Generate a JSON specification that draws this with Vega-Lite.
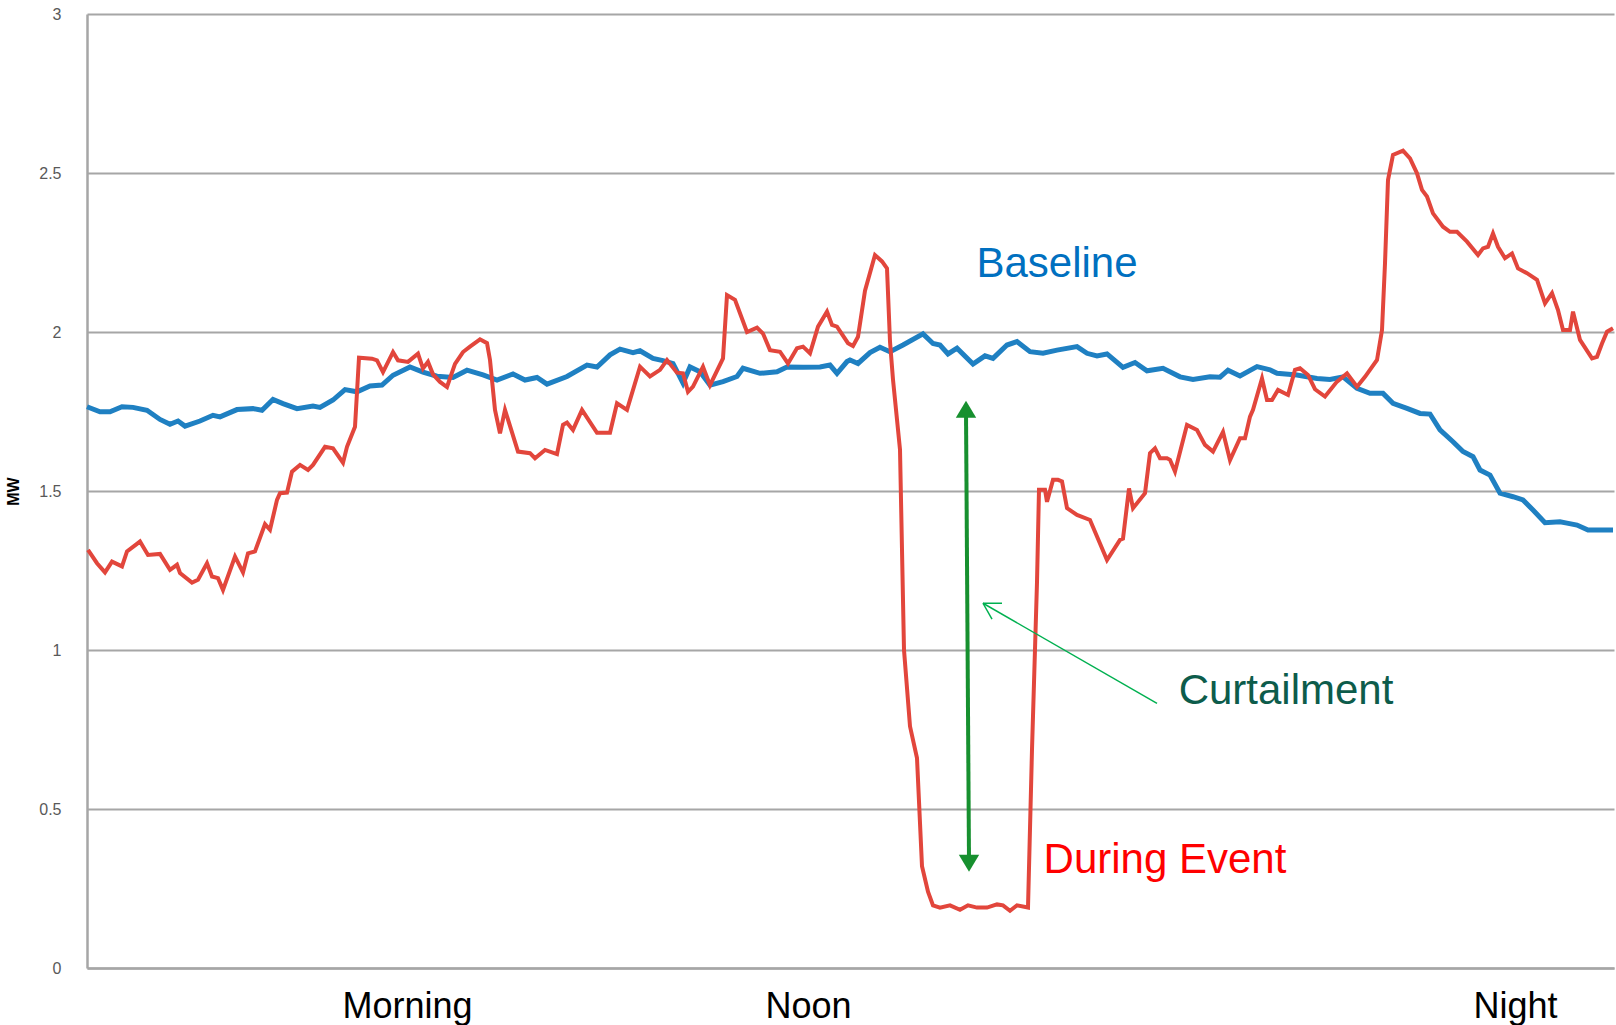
{
  "$schema": "https://vega.github.io/schema/vega-lite/v6.json",
  "width": 1527,
  "height": 954,
  "autosize": {"type": "none"},
  "padding": {"left": 87, "top": 14, "right": 2, "bottom": 57},
  "background": "white",
  "config": {"view": {"stroke": null}, "font": "Liberation Sans"},
  "datasets": {
    "baseline": [
      {"t":0,"mw":1.765},{"t":13,"mw":1.749},{"t":23,"mw":1.749},{"t":35,"mw":1.765},{"t":46,"mw":1.763},{"t":60,"mw":1.754},{"t":73,"mw":1.725},{"t":83,"mw":1.71},{"t":91,"mw":1.72},{"t":98,"mw":1.704},{"t":113,"mw":1.72},{"t":126,"mw":1.738},{"t":133,"mw":1.733},{"t":150,"mw":1.756},{"t":166,"mw":1.759},{"t":175,"mw":1.754},{"t":186,"mw":1.788},{"t":196,"mw":1.775},{"t":210,"mw":1.759},{"t":226,"mw":1.767},{"t":233,"mw":1.763},{"t":246,"mw":1.786},{"t":258,"mw":1.819},{"t":270,"mw":1.812},{"t":283,"mw":1.83},{"t":295,"mw":1.833},{"t":306,"mw":1.864},{"t":323,"mw":1.89},{"t":336,"mw":1.874},{"t":350,"mw":1.861},{"t":366,"mw":1.857},{"t":380,"mw":1.88},{"t":396,"mw":1.865},{"t":410,"mw":1.849},{"t":426,"mw":1.868},{"t":438,"mw":1.849},{"t":450,"mw":1.857},{"t":460,"mw":1.836},{"t":480,"mw":1.86},{"t":500,"mw":1.896},{"t":510,"mw":1.89},{"t":523,"mw":1.928},{"t":533,"mw":1.946},{"t":546,"mw":1.935},{"t":553,"mw":1.941},{"t":566,"mw":1.917},{"t":576,"mw":1.91},{"t":586,"mw":1.901},{"t":596,"mw":1.839},{"t":603,"mw":1.89},{"t":613,"mw":1.875},{"t":623,"mw":1.833},{"t":636,"mw":1.844},{"t":650,"mw":1.86},{"t":656,"mw":1.886},{"t":673,"mw":1.87},{"t":690,"mw":1.875},{"t":700,"mw":1.89},{"t":716,"mw":1.889},{"t":733,"mw":1.89},{"t":743,"mw":1.896},{"t":750,"mw":1.87},{"t":760,"mw":1.907},{"t":763,"mw":1.912},{"t":771,"mw":1.901},{"t":783,"mw":1.935},{"t":793,"mw":1.952},{"t":803,"mw":1.938},{"t":816,"mw":1.959},{"t":836,"mw":1.994},{"t":846,"mw":1.964},{"t":853,"mw":1.959},{"t":861,"mw":1.931},{"t":870,"mw":1.949},{"t":886,"mw":1.899},{"t":898,"mw":1.925},{"t":906,"mw":1.917},{"t":920,"mw":1.959},{"t":930,"mw":1.97},{"t":943,"mw":1.938},{"t":956,"mw":1.933},{"t":970,"mw":1.943},{"t":990,"mw":1.954},{"t":1000,"mw":1.933},{"t":1010,"mw":1.925},{"t":1020,"mw":1.931},{"t":1036,"mw":1.889},{"t":1048,"mw":1.904},{"t":1060,"mw":1.878},{"t":1076,"mw":1.886},{"t":1093,"mw":1.859},{"t":1106,"mw":1.851},{"t":1123,"mw":1.859},{"t":1133,"mw":1.858},{"t":1141,"mw":1.88},{"t":1153,"mw":1.862},{"t":1170,"mw":1.891},{"t":1183,"mw":1.881},{"t":1190,"mw":1.87},{"t":1210,"mw":1.865},{"t":1230,"mw":1.854},{"t":1243,"mw":1.851},{"t":1256,"mw":1.859},{"t":1270,"mw":1.823},{"t":1283,"mw":1.807},{"t":1296,"mw":1.807},{"t":1306,"mw":1.776},{"t":1320,"mw":1.76},{"t":1333,"mw":1.744},{"t":1343,"mw":1.742},{"t":1353,"mw":1.692},{"t":1366,"mw":1.655},{"t":1376,"mw":1.624},{"t":1386,"mw":1.608},{"t":1393,"mw":1.566},{"t":1403,"mw":1.55},{"t":1413,"mw":1.493},{"t":1426,"mw":1.482},{"t":1436,"mw":1.472},{"t":1446,"mw":1.44},{"t":1458,"mw":1.4},{"t":1473,"mw":1.403},{"t":1480,"mw":1.399},{"t":1490,"mw":1.393},{"t":1501,"mw":1.377},{"t":1526,"mw":1.377}
    ],
    "event": [
      {"t":1,"mw":1.315},{"t":10,"mw":1.273},{"t":18,"mw":1.244},{"t":25,"mw":1.278},{"t":35,"mw":1.263},{"t":40,"mw":1.31},{"t":53,"mw":1.341},{"t":61,"mw":1.299},{"t":73,"mw":1.302},{"t":83,"mw":1.252},{"t":90,"mw":1.268},{"t":93,"mw":1.242},{"t":105,"mw":1.212},{"t":111,"mw":1.221},{"t":120,"mw":1.273},{"t":125,"mw":1.231},{"t":131,"mw":1.226},{"t":136,"mw":1.189},{"t":148,"mw":1.294},{"t":156,"mw":1.244},{"t":161,"mw":1.304},{"t":168,"mw":1.31},{"t":178,"mw":1.396},{"t":183,"mw":1.378},{"t":190,"mw":1.472},{"t":193,"mw":1.493},{"t":200,"mw":1.495},{"t":205,"mw":1.561},{"t":213,"mw":1.582},{"t":221,"mw":1.566},{"t":226,"mw":1.582},{"t":238,"mw":1.639},{"t":246,"mw":1.634},{"t":256,"mw":1.589},{"t":260,"mw":1.639},{"t":266,"mw":1.686},{"t":268,"mw":1.702},{"t":272,"mw":1.919},{"t":285,"mw":1.916},{"t":290,"mw":1.911},{"t":296,"mw":1.874},{"t":306,"mw":1.937},{"t":311,"mw":1.911},{"t":321,"mw":1.906},{"t":331,"mw":1.932},{"t":336,"mw":1.885},{"t":341,"mw":1.906},{"t":346,"mw":1.867},{"t":353,"mw":1.843},{"t":360,"mw":1.827},{"t":368,"mw":1.9},{"t":376,"mw":1.937},{"t":383,"mw":1.954},{"t":393,"mw":1.977},{"t":400,"mw":1.965},{"t":403,"mw":1.912},{"t":408,"mw":1.755},{"t":413,"mw":1.681},{"t":418,"mw":1.755},{"t":431,"mw":1.624},{"t":443,"mw":1.619},{"t":448,"mw":1.603},{"t":458,"mw":1.629},{"t":470,"mw":1.616},{"t":476,"mw":1.708},{"t":480,"mw":1.715},{"t":486,"mw":1.692},{"t":495,"mw":1.755},{"t":510,"mw":1.683},{"t":523,"mw":1.683},{"t":530,"mw":1.776},{"t":540,"mw":1.755},{"t":553,"mw":1.891},{"t":563,"mw":1.86},{"t":573,"mw":1.881},{"t":580,"mw":1.912},{"t":590,"mw":1.872},{"t":596,"mw":1.87},{"t":601,"mw":1.812},{"t":606,"mw":1.828},{"t":616,"mw":1.891},{"t":623,"mw":1.833},{"t":636,"mw":1.917},{"t":640,"mw":2.116},{"t":648,"mw":2.101},{"t":660,"mw":2.0},{"t":670,"mw":2.014},{"t":676,"mw":1.995},{"t":683,"mw":1.943},{"t":693,"mw":1.938},{"t":701,"mw":1.901},{"t":710,"mw":1.949},{"t":716,"mw":1.954},{"t":723,"mw":1.933},{"t":731,"mw":2.017},{"t":740,"mw":2.064},{"t":745,"mw":2.022},{"t":750,"mw":2.017},{"t":761,"mw":1.965},{"t":766,"mw":1.956},{"t":771,"mw":1.985},{"t":778,"mw":2.13},{"t":788,"mw":2.242},{"t":795,"mw":2.222},{"t":800,"mw":2.2},{"t":803,"mw":1.97},{"t":806,"mw":1.85},{"t":813,"mw":1.63},{"t":817,"mw":1.0},{"t":823,"mw":0.76},{"t":830,"mw":0.66},{"t":835,"mw":0.32},{"t":841,"mw":0.24},{"t":846,"mw":0.197},{"t":853,"mw":0.19},{"t":863,"mw":0.197},{"t":873,"mw":0.183},{"t":881,"mw":0.197},{"t":890,"mw":0.19},{"t":900,"mw":0.19},{"t":910,"mw":0.2},{"t":916,"mw":0.197},{"t":923,"mw":0.18},{"t":930,"mw":0.197},{"t":941,"mw":0.19},{"t":945,"mw":0.687},{"t":950,"mw":1.213},{"t":952,"mw":1.504},{"t":958,"mw":1.504},{"t":960,"mw":1.466},{"t":966,"mw":1.535},{"t":971,"mw":1.535},{"t":975,"mw":1.53},{"t":980,"mw":1.446},{"t":990,"mw":1.425},{"t":1003,"mw":1.409},{"t":1020,"mw":1.283},{"t":1033,"mw":1.346},{"t":1036,"mw":1.35},{"t":1042,"mw":1.508},{"t":1046,"mw":1.446},{"t":1058,"mw":1.493},{"t":1063,"mw":1.619},{"t":1068,"mw":1.634},{"t":1073,"mw":1.603},{"t":1080,"mw":1.603},{"t":1083,"mw":1.598},{"t":1088,"mw":1.561},{"t":1100,"mw":1.708},{"t":1110,"mw":1.692},{"t":1118,"mw":1.645},{"t":1126,"mw":1.624},{"t":1136,"mw":1.686},{"t":1143,"mw":1.597},{"t":1153,"mw":1.666},{"t":1158,"mw":1.666},{"t":1163,"mw":1.734},{"t":1166,"mw":1.755},{"t":1175,"mw":1.854},{"t":1180,"mw":1.786},{"t":1185,"mw":1.786},{"t":1191,"mw":1.818},{"t":1201,"mw":1.802},{"t":1208,"mw":1.881},{"t":1213,"mw":1.886},{"t":1221,"mw":1.865},{"t":1228,"mw":1.82},{"t":1238,"mw":1.797},{"t":1250,"mw":1.844},{"t":1260,"mw":1.87},{"t":1270,"mw":1.828},{"t":1278,"mw":1.859},{"t":1290,"mw":1.912},{"t":1295,"mw":2.006},{"t":1298,"mw":2.216},{"t":1301,"mw":2.478},{"t":1306,"mw":2.557},{"t":1316,"mw":2.57},{"t":1323,"mw":2.546},{"t":1330,"mw":2.499},{"t":1335,"mw":2.447},{"t":1340,"mw":2.426},{"t":1346,"mw":2.373},{"t":1356,"mw":2.331},{"t":1363,"mw":2.315},{"t":1370,"mw":2.315},{"t":1380,"mw":2.284},{"t":1391,"mw":2.242},{"t":1396,"mw":2.263},{"t":1401,"mw":2.268},{"t":1406,"mw":2.31},{"t":1411,"mw":2.268},{"t":1418,"mw":2.232},{"t":1425,"mw":2.247},{"t":1431,"mw":2.2},{"t":1440,"mw":2.185},{"t":1450,"mw":2.164},{"t":1458,"mw":2.09},{"t":1465,"mw":2.122},{"t":1471,"mw":2.069},{"t":1476,"mw":2.006},{"t":1483,"mw":2.006},{"t":1486,"mw":2.064},{"t":1493,"mw":1.975},{"t":1505,"mw":1.917},{"t":1510,"mw":1.922},{"t":1515,"mw":1.964},{"t":1520,"mw":2.001},{"t":1526,"mw":2.012}
    ],
    "bigArrow": [{"t":879,"mw":1.75,"t2":882,"mw2":0.34}],
    "bigHeads": [{"t":879,"mw":1.784,"dir":"up"},{"t":882,"mw":0.303,"dir":"down"}],
    "pointer": [
      {"t":1070,"mw":0.832,"t2":896,"mw2":1.147},
      {"t":896,"mw":1.147,"t2":915,"mw2":1.147},
      {"t":896,"mw":1.147,"t2":905,"mw2":1.097}
    ],
    "notes": [
      {"label":"Baseline","t":970,"mw":2.173},
      {"label":"Curtailment","t":1199,"mw":0.830},
      {"label":"During Event","t":1078,"mw":0.299}
    ]
  },
  "layer": [
    {
      "data": {"name": "baseline"},
      "mark": {"type": "line", "color": "#1f80c2", "strokeWidth": 5},
      "encoding": {
        "x": {
          "field": "t", "type": "quantitative",
          "scale": {"domain": [0, 1527], "nice": false, "zero": false},
          "axis": {
            "title": null,
            "values": [320, 721, 1428],
            "labelExpr": "datum.value == 320 ? 'Morning' : datum.value == 721 ? 'Noon' : 'Night'",
            "labelFontSize": 36, "labelColor": "#000000", "labelFont": "Liberation Sans",
            "labelPadding": 21, "labelFlush": false,
            "ticks": false, "grid": false,
            "domainColor": "#a6a6a6", "domainWidth": 2.5
          }
        },
        "y": {
          "field": "mw", "type": "quantitative",
          "scale": {"domain": [0, 3], "nice": false},
          "axis": {
            "title": "MW",
            "titleFontWeight": "bold", "titleFontSize": 16, "titleColor": "#000000",
            "titleAngle": 270, "titleX": -74, "titleY": 477,
            "titleAlign": "center", "titleBaseline": "middle",
            "values": [0, 0.5, 1, 1.5, 2, 2.5, 3],
            "format": "~g",
            "labelFontSize": 16, "labelColor": "#595959", "labelFont": "Liberation Sans",
            "labelPadding": 26,
            "ticks": false,
            "grid": true, "gridColor": "#a6a6a6", "gridWidth": 2,
            "domainColor": "#a6a6a6", "domainWidth": 2.5
          }
        }
      }
    },
    {
      "data": {"name": "event"},
      "mark": {"type": "line", "color": "#e2463c", "strokeWidth": 4},
      "encoding": {
        "x": {"field": "t", "type": "quantitative"},
        "y": {"field": "mw", "type": "quantitative"}
      }
    },
    {
      "data": {"name": "bigArrow"},
      "mark": {"type": "rule", "color": "#17902f", "strokeWidth": 4},
      "encoding": {
        "x": {"field": "t", "type": "quantitative"},
        "y": {"field": "mw", "type": "quantitative"},
        "x2": {"field": "t2"},
        "y2": {"field": "mw2"}
      }
    },
    {
      "data": {"name": "bigHeads"},
      "mark": {"type": "point", "filled": true, "opacity": 1, "size": 1156, "color": "#17902f", "strokeWidth": 0},
      "encoding": {
        "x": {"field": "t", "type": "quantitative"},
        "y": {"field": "mw", "type": "quantitative"},
        "shape": {
          "field": "dir", "type": "nominal",
          "scale": {"domain": ["up", "down"], "range": ["M0,0L0.6,1L-0.6,1Z", "M0,0L0.6,-1L-0.6,-1Z"]},
          "legend": null
        }
      }
    },
    {
      "data": {"name": "pointer"},
      "mark": {"type": "rule", "color": "#00b050", "strokeWidth": 1.5},
      "encoding": {
        "x": {"field": "t", "type": "quantitative"},
        "y": {"field": "mw", "type": "quantitative"},
        "x2": {"field": "t2"},
        "y2": {"field": "mw2"}
      }
    },
    {
      "data": {"name": "notes"},
      "mark": {"type": "text", "fontSize": 42, "font": "Liberation Sans", "align": "center", "baseline": "alphabetic"},
      "encoding": {
        "x": {"field": "t", "type": "quantitative"},
        "y": {"field": "mw", "type": "quantitative"},
        "text": {"field": "label"},
        "color": {
          "field": "label", "type": "nominal",
          "scale": {"domain": ["Baseline", "Curtailment", "During Event"], "range": ["#0070c0", "#0d5c4b", "#ff0000"]},
          "legend": null
        }
      }
    }
  ]
}
